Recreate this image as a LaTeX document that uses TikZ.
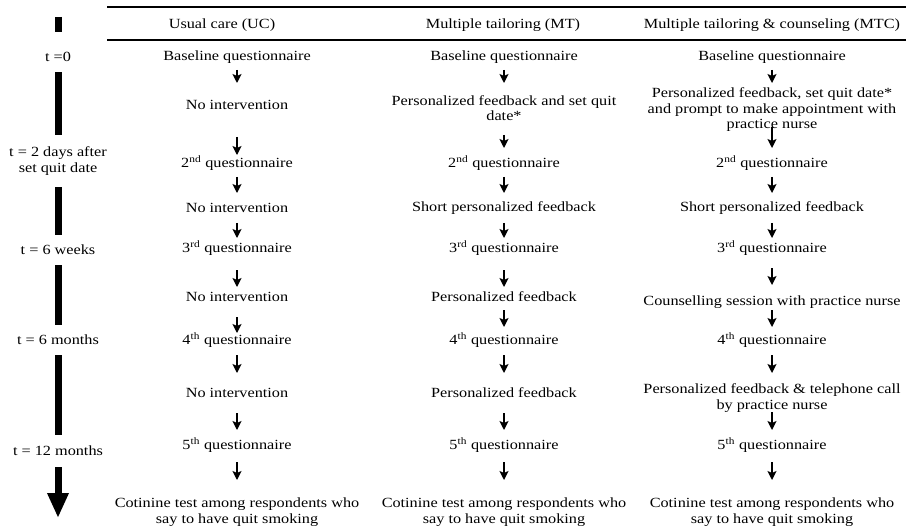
\documentclass[tikz,border=0pt]{standalone}
\usepackage{fontspec}
\setmainfont{Liberation Serif}[FakeStretch=1.16]
\usetikzlibrary{arrows.meta}
\begin{document}
\begin{tikzpicture}[x=1pt, y=-1pt,
  txt/.style={inner sep=0pt, align=center, font=\fontsize{14}{15.5}\selectfont},
  tlabel/.style={txt, minimum height=30pt},
  flow/.style={-{Stealth[length=9pt,width=9pt,inset=2pt]}, line width=1.3pt},
  bar/.style={line width=7pt}]
\useasboundingbox (0,0) rectangle (906,532);
\draw[line width=1.5pt] (107,7) -- (906,7);
\draw[line width=1.2pt] (107,40) -- (906,40);
\node[txt] (hUC) at (222,25) {Usual care (UC)};
\node[txt] (hMT) at (503,25) {Multiple tailoring (MT)};
\node[txt] (hMTC) at (772,25) {Multiple tailoring \& counseling (MTC)};
\node[tlabel] (tl0) at (58,57) {t =0};
\node[tlabel, minimum height=52pt] (tl1) at (58,161) {t = 2 days after\\set quit date};
\node[tlabel] (tl2) at (58,250) {t = 6 weeks};
\node[tlabel] (tl3) at (58,340) {t = 6 months};
\node[tlabel, minimum height=32pt] (tl4) at (58,451) {t = 12 months};
\coordinate (ttop) at (58,17);
\coordinate (tbot) at (58,518);
\draw[bar, shorten >=10pt] (ttop) -- (tl0);
\draw[bar] (tl0) -- (tl1);
\draw[bar] (tl1) -- (tl2);
\draw[bar] (tl2) -- (tl3);
\draw[bar] (tl3) -- (tl4);
\draw[bar, -{Triangle[length=25pt,width=20pt]}] (tl4) -- (tbot);
\node[txt] (uc1) at (237,57) {Baseline questionnaire};
\node[txt] (uc2) at (237,105) {No intervention};
\node[txt] (uc3) at (237,163) {2\textsuperscript{nd} questionnaire};
\node[txt] (uc4) at (237,208) {No intervention};
\node[txt] (uc5) at (237,248) {3\textsuperscript{rd} questionnaire};
\node[txt] (uc6) at (237,297) {No intervention};
\node[txt] (uc7) at (237,340) {4\textsuperscript{th} questionnaire};
\node[txt] (uc8) at (237,393) {No intervention};
\node[txt] (uc9) at (237,445) {5\textsuperscript{th} questionnaire};
\node[txt] (uc10) at (237,512) {Cotinine test among respondents who\\say to have quit smoking};
\draw[flow, shorten <=13pt, shorten >=22pt] (uc1.center) -- (uc2.center);
\draw[flow, shorten <=32pt, shorten >=8pt] (uc2.center) -- (uc3.center);
\draw[flow, shorten <=14pt, shorten >=15pt] (uc3.center) -- (uc4.center);
\draw[flow, shorten <=15pt, shorten >=10pt] (uc4.center) -- (uc5.center);
\draw[flow, shorten <=22pt, shorten >=10pt] (uc5.center) -- (uc6.center);
\draw[flow, shorten <=20pt, shorten >=7pt] (uc6.center) -- (uc7.center);
\draw[flow, shorten <=15pt, shorten >=20pt] (uc7.center) -- (uc8.center);
\draw[flow, shorten <=20pt, shorten >=15pt] (uc8.center) -- (uc9.center);
\draw[flow, shorten <=17pt, shorten >=32pt] (uc9.center) -- (uc10.center);
\node[txt] (mt1) at (504,57) {Baseline questionnaire};
\node[txt] (mt2) at (504,108) {Personalized feedback and set quit\\date*};
\node[txt] (mt3) at (504,163) {2\textsuperscript{nd} questionnaire};
\node[txt] (mt4) at (504,208) {Short personalized feedback};
\node[txt] (mt5) at (504,248) {3\textsuperscript{rd} questionnaire};
\node[txt] (mt6) at (504,297) {Personalized feedback};
\node[txt] (mt7) at (504,340) {4\textsuperscript{th} questionnaire};
\node[txt] (mt8) at (504,393) {Personalized feedback};
\node[txt] (mt9) at (504,445) {5\textsuperscript{th} questionnaire};
\node[txt] (mt10) at (504,512) {Cotinine test among respondents who\\say to have quit smoking};
\draw[flow, shorten <=13pt, shorten >=25pt] (mt1.center) -- (mt2.center);
\draw[flow, shorten <=27pt, shorten >=15pt] (mt2.center) -- (mt3.center);
\draw[flow, shorten <=14pt, shorten >=15pt] (mt3.center) -- (mt4.center);
\draw[flow, shorten <=15pt, shorten >=10pt] (mt4.center) -- (mt5.center);
\draw[flow, shorten <=22pt, shorten >=10pt] (mt5.center) -- (mt6.center);
\draw[flow, shorten <=13pt, shorten >=13pt] (mt6.center) -- (mt7.center);
\draw[flow, shorten <=15pt, shorten >=20pt] (mt7.center) -- (mt8.center);
\draw[flow, shorten <=20pt, shorten >=15pt] (mt8.center) -- (mt9.center);
\draw[flow, shorten <=17pt, shorten >=32pt] (mt9.center) -- (mt10.center);
\node[txt] (mtc1) at (772,57) {Baseline questionnaire};
\node[txt] (mtc2) at (772,110) {Personalized feedback, set quit date*\\and prompt to make appointment with\\practice nurse};
\node[txt] (mtc3) at (772,163) {2\textsuperscript{nd} questionnaire};
\node[txt] (mtc4) at (772,208) {Short personalized feedback};
\node[txt] (mtc5) at (772,248) {3\textsuperscript{rd} questionnaire};
\node[txt] (mtc6) at (772,302) {Counselling session with practice nurse};
\node[txt] (mtc7) at (772,340) {4\textsuperscript{th} questionnaire};
\node[txt] (mtc8) at (772,398) {Personalized feedback \& telephone call\\by practice nurse};
\node[txt] (mtc9) at (772,445) {5\textsuperscript{th} questionnaire};
\node[txt] (mtc10) at (772,512) {Cotinine test among respondents who\\say to have quit smoking};
\draw[flow, shorten <=13pt, shorten >=27pt] (mtc1.center) -- (mtc2.center);
\draw[flow, shorten <=17pt, shorten >=15pt] (mtc2.center) -- (mtc3.center);
\draw[flow, shorten <=14pt, shorten >=15pt] (mtc3.center) -- (mtc4.center);
\draw[flow, shorten <=15pt, shorten >=10pt] (mtc4.center) -- (mtc5.center);
\draw[flow, shorten <=20pt, shorten >=17pt] (mtc5.center) -- (mtc6.center);
\draw[flow, shorten <=8pt, shorten >=13pt] (mtc6.center) -- (mtc7.center);
\draw[flow, shorten <=15pt, shorten >=25pt] (mtc7.center) -- (mtc8.center);
\draw[flow, shorten <=14pt, shorten >=15pt] (mtc8.center) -- (mtc9.center);
\draw[flow, shorten <=17pt, shorten >=32pt] (mtc9.center) -- (mtc10.center);
\end{tikzpicture}
\end{document}
